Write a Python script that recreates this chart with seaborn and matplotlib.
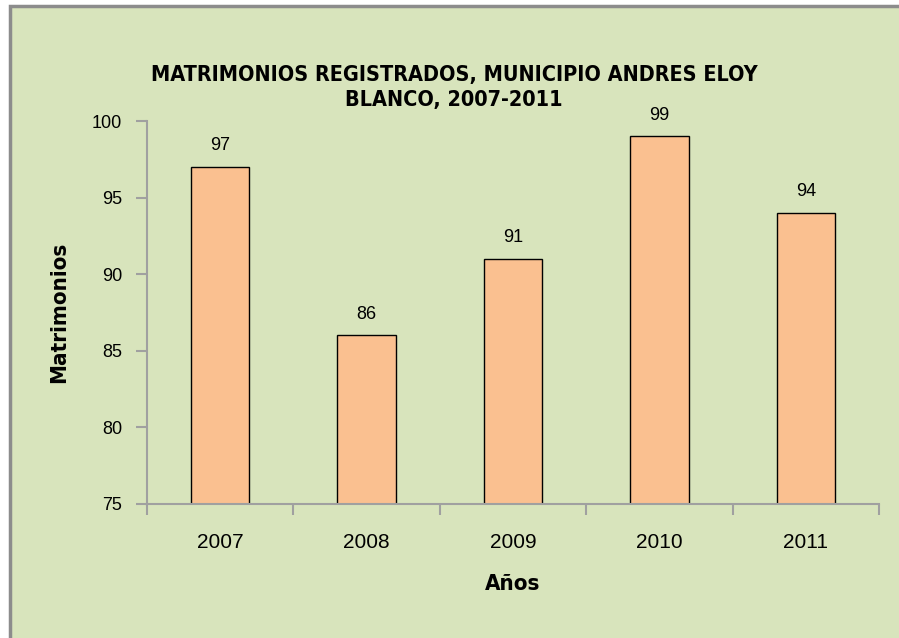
import seaborn as sns
import pandas as pd
import matplotlib.pyplot as plt
from matplotlib.patches import Rectangle

# Datos del gráfico
anios = ['2007', '2008', '2009', '2010', '2011']
matrimonios = [97, 86, 91, 99, 94]

df = pd.DataFrame({'Años': anios, 'Matrimonios': matrimonios})

sns.set_style('ticks')
plt.rcParams['font.family'] = ['Liberation Sans', 'DejaVu Sans']
plt.rcParams['text.color'] = 'black'
plt.rcParams['axes.labelcolor'] = 'black'
narrow = ['DejaVu Sans']

fig = plt.figure(figsize=(8.99, 6.38), dpi=100, facecolor='white')
# fondo verde con borde gris
fondo = Rectangle((10 / 899, -0.01), 1.0, (638 - 6) / 638 + 0.01, transform=fig.transFigure,
                  facecolor='#D8E4BC', edgecolor='#8C8C8C', linewidth=2.5, zorder=-10)
fig.patches.append(fondo)

ax = fig.add_axes([147 / 899, 134 / 638, 732 / 899, 383 / 638])
ax.set_facecolor('none')

sns.barplot(data=df, x='Años', y='Matrimonios', color='#FAC090', edgecolor='black',
            linewidth=1, width=0.4, saturation=1, ax=ax)

ax.set_ylim(75, 100)
ax.set_xlim(-0.5, 4.5)
ax.set_yticks([75, 80, 85, 90, 95, 100])

for s in ['top', 'right']:
    ax.spines[s].set_visible(False)
for s in ['left', 'bottom']:
    ax.spines[s].set_color('#A0A0A0')
    ax.spines[s].set_linewidth(1.5)

ax.tick_params(axis='y', colors='#A0A0A0', length=8, width=1.5, labelcolor='black',
               labelsize=13, pad=10)
ax.tick_params(axis='x', which='major', length=0, labelsize=15, pad=21, labelcolor='black')
ax.set_xticks([i - 0.5 for i in range(6)], minor=True)
ax.tick_params(axis='x', which='minor', colors='#A0A0A0', length=8, width=1.5)

ax.bar_label(ax.containers[0], padding=9, fontsize=13)

ax.set_xlabel('Años', fontsize=16, fontweight='bold', family=narrow, stretch='condensed', labelpad=16)
ax.set_ylabel('Matrimonios', fontsize=16, fontweight='bold', family=narrow, stretch='condensed',
              labelpad=16)

fig.text(454 / 899, 1 - 75 / 638, 'MATRIMONIOS REGISTRADOS, MUNICIPIO ANDRES ELOY',
         ha='center', va='center', fontsize=15.5, fontweight='bold', family=narrow, stretch='condensed')
fig.text(454 / 899, 1 - 100 / 638, 'BLANCO, 2007-2011',
         ha='center', va='center', fontsize=15.5, fontweight='bold', family=narrow, stretch='condensed')

fig.savefig('out.png', dpi=100, facecolor=fig.get_facecolor())
